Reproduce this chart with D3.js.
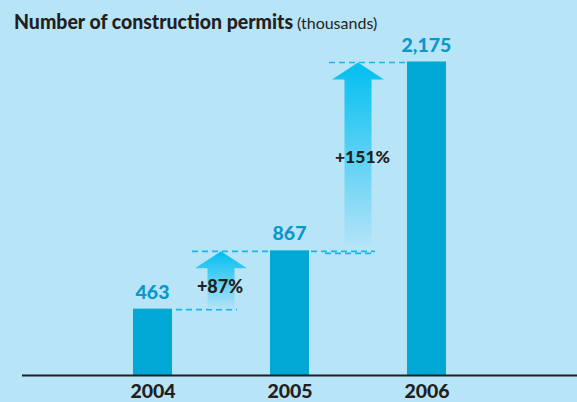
<!DOCTYPE html>
<html><head><meta charset="utf-8">
<script src="https://cdn.jsdelivr.net/npm/d3@7"></script>
<style>
html,body{margin:0;padding:0;background:#b8e4f8;}
svg{display:block;}
</style></head>
<body>
<svg id="chart" width="577" height="402"></svg>
<script>
const years = ["2004", "2005", "2006"];
const permits = [463, 867, 2175];
const valueLabels = ["463", "867", "2,175"];
const growthLabels = ["+87%", "+151%"];
const titleBold = "Number of construction permits";
const titleNormal = " (thousands)";

const W = 577, H = 402;
const svg = d3.select("#chart");
const font = "Lato,'Liberation Sans',sans-serif";

svg.append("rect").attr("width", W).attr("height", H).attr("fill", "#b8e4f8");

const defs = svg.append("defs");
const grad = defs.append("linearGradient").attr("id", "ag").attr("x1", 0).attr("y1", 0).attr("x2", 0).attr("y2", 1);
grad.append("stop").attr("offset", "0%").attr("stop-color", "#00bff0");
grad.append("stop").attr("offset", "100%").attr("stop-color", "#b3e3f8");

const baseY = 375.5;
const x = d3.scalePoint().domain(years).range([152.5, 426.5]);
const y = d3.scaleLinear().domain([0, 2175]).range([baseY, 61.5]);
const bw = 39;

// bars
svg.selectAll("rect.bar").data(permits).join("rect").attr("class", "bar")
  .attr("x", (d, i) => x(years[i]) - bw / 2).attr("width", bw)
  .attr("y", d => y(d)).attr("height", d => baseY - y(d))
  .attr("fill", "#00a8d6");

// value labels
svg.selectAll("text.val").data(permits).join("text").attr("class", "val")
  .attr("x", (d, i) => x(years[i])).attr("y", d => y(d) - 10)
  .attr("text-anchor", "middle").attr("font-family", font).attr("font-weight", "900")
  .attr("font-size", 19.5).attr("fill", "#0a97cd").text((d, i) => valueLabels[i]);

// arrows + dashes
const dash = (x1, x2, yy) => svg.append("line").attr("x1", x1).attr("x2", x2).attr("y1", yy).attr("y2", yy)
  .attr("stroke", "#1db2ea").attr("stroke-width", 1.6).attr("stroke-dasharray", "6,4");

for (let i = 0; i < 2; i++) {
  const cx = (x(years[i]) + x(years[i + 1])) / 2;
  const yLow = y(permits[i]), yHigh = y(permits[i + 1]);
  const xr = x(years[i]) + bw / 2;
  if (i === 0) dash(xr + 4, cx + 16, yLow + 1);
  else dash(cx - 33, cx + 16, yLow + 3);
  dash(cx - 29, x(years[i + 1]) - bw / 2, yHigh + 1);
  if (i === 0) dash(x(years[i + 1]) + bw / 2 + 2, x(years[i + 1]) + bw / 2 + 66, yHigh + 1);
  const top = yHigh + 1, headH = 17, hw = 26, sw = 13.5;
  const bot = i === 0 ? yLow : yLow - 5;
  const path = d3.path();
  path.moveTo(cx, top);
  path.lineTo(cx + hw, top + headH);
  path.lineTo(cx + sw, top + headH);
  path.lineTo(cx + sw, bot);
  path.lineTo(cx - sw, bot);
  path.lineTo(cx - sw, top + headH);
  path.lineTo(cx - hw, top + headH);
  path.closePath();
  svg.append("path").attr("d", path.toString()).attr("fill", "url(#ag)");
  svg.append("text").attr("x", i === 0 ? cx - 1 : cx + 4.5).attr("y", i === 0 ? 293 : 163)
    .attr("text-anchor", "middle").attr("font-family", font).attr("font-weight", "900")
    .attr("font-size", i === 0 ? 18 : 17.5).attr("fill", "#231f20").text(growthLabels[i]);
}

// axis
const axis = d3.axisBottom(x).tickSize(0).tickPadding(9);
const gA = svg.append("g").attr("transform", `translate(0,${baseY})`).call(axis);
gA.select(".domain").remove();
gA.selectAll("text").attr("font-family", font).attr("font-weight", "900").attr("font-size", 19.5)
  .attr("fill", "#231f20").attr("dy", "0.71em");
svg.append("line").attr("x1", 22).attr("x2", 577).attr("y1", baseY).attr("y2", baseY)
  .attr("stroke", "#231f20").attr("stroke-width", 2.2);

// title
const t = svg.append("text").attr("x", 14).attr("y", 29).attr("font-family", font).attr("fill", "#231f20");
t.append("tspan").attr("font-weight", "900").attr("font-size", 20)
  .attr("textLength", 279).attr("lengthAdjust", "spacingAndGlyphs").text(titleBold);
t.append("tspan").attr("font-size", 16).attr("dx", 4).text(titleNormal.trim());
</script>
</body></html>
